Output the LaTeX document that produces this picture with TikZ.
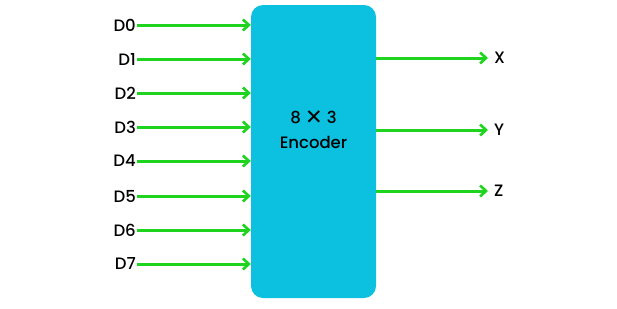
\documentclass[tikz,border=0pt]{standalone}
\usepackage{fontspec}
\setmainfont{Poppins}[UprightFont={* Medium}]
\newfontfamily\symfont{DejaVu Sans}
\usetikzlibrary{positioning,arrows.meta}
\definecolor{EncCyan}{HTML}{0CC0DF}
\definecolor{WireGreen}{HTML}{1ED41E}

\begin{document}
\begin{tikzpicture}[x=1pt,y=-1pt,>={Straight Barb[length=6pt,width=11pt,line width=2.6pt]}]
  \tikzstyle{encbox}=[fill=EncCyan,rounded corners=12pt,minimum width=125pt,
    minimum height=293pt]
  \tikzstyle{pin}=[inner sep=1pt,font=\fontsize{16.5}{18}\selectfont]
  \tikzstyle{wire}=[->,line width=3pt,color=WireGreen]
  \useasboundingbox (0,0) rectangle (617,308);
  \node[encbox] (enc) at (313.5,151.5) {};
  \node[align=center,font=\fontsize{16.5}{25}\selectfont] (lbl) at (313.5,130)
    {8 {\symfont\fontsize{21}{25}\selectfont\raisebox{-1pt}{✕}} 3\\Encoder};
  % inputs
  \foreach \i/\y in {0/25,1/59,2/93,3/127,4/161,5/196,6/230,7/264}{
    \node[pin,anchor=east] (d\i) at (137,\y) {D\i};
    \draw[wire] (d\i.east) -- (enc.west |- d\i.east);
  }
  % outputs
  \foreach \o/\y in {X/58,Y/130,Z/191}{
    \node[pin,anchor=west] (\o) at (493,\y) {\o};
    \draw[wire,shorten >=5pt] (enc.east |- \o.west) -- (\o.west);
  }
\end{tikzpicture}
\end{document}
